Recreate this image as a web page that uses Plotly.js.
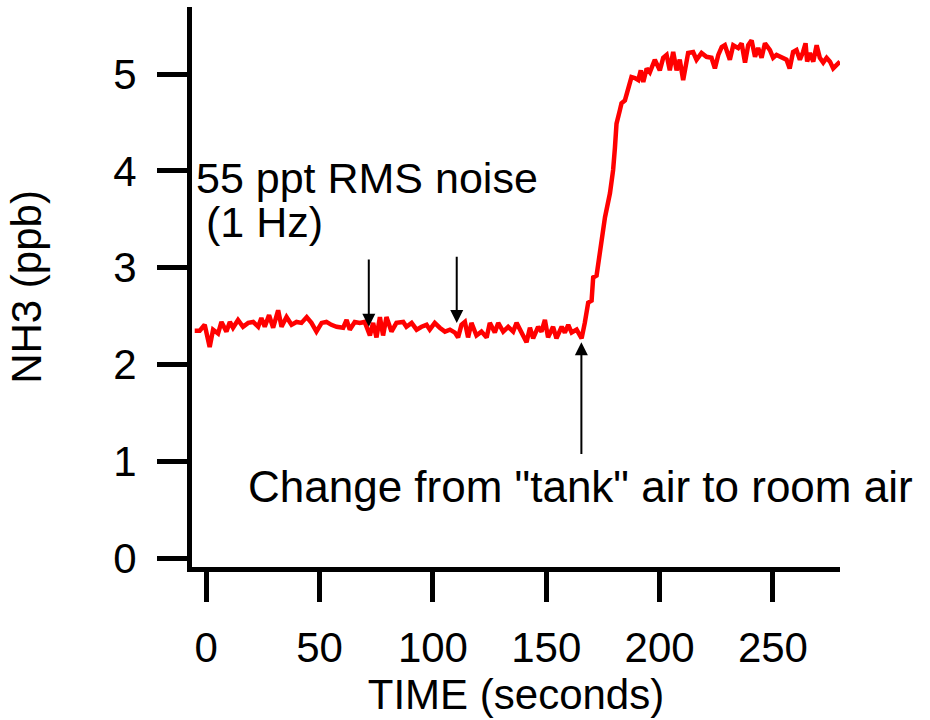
<!DOCTYPE html>
<html>
<head>
<meta charset="utf-8">
<script src="https://cdn.plot.ly/plotly-3.0.1.min.js"></script>
<style>html,body{margin:0;padding:0;background:#fff;}#chart{width:930px;height:720px;}</style>
</head>
<body>
<div id="chart"></div>
<script>
// Time (seconds)
const timeSec = [
-5.1,-2.9,-0.7,1.5,3.0,5.2,6.7,8.9,10.4,11.8,14.0,16.2,18.5,20.7,22.9,24.3,25.8,27.7,29.5,31.7,
33.2,35.4,37.6,39.8,42.0,44.3,46.4,48.6,50.9,53.0,55.2,57.5,60.4,61.9,63.3,65.5,67.7,69.9,72.2,73.6,
75.1,76.6,78.0,79.5,81.7,83.9,86.9,88.3,90.6,92.8,95.0,97.2,98.6,100.8,103.0,105.3,107.5,109.7,111.1,112.6,
114.1,115.5,117.0,119.2,121.4,123.7,125.1,127.3,128.8,131.0,133.2,135.4,136.9,139.1,141.3,142.8,144.2,146.4,147.9,149.4,
150.8,153.0,154.5,156.8,158.2,159.7,161.2,163.4,165.6,167.0,168.5,170.0,170.7,172.2,173.7,175.1,175.9,178.1,179.5,180.3,
181.0,182.5,183.2,184.7,186.1,187.6,189.1,190.6,191.7,192.8,194.3,195.7,197.9,200.1,201.6,203.1,204.5,206.0,207.5,208.9,
210.4,212.6,214.8,216.3,218.5,220.7,222.9,224.4,225.9,227.4,228.8,231.0,232.5,234.7,236.2,237.7,239.1,240.6,242.1,243.5,
245.0,246.5,248.7,250.1,251.6,253.8,256.0,257.4,258.9,260.4,261.9,263.3,264.4,265.1,266.3,267.8,269.3,270.7,272.2,273.7,
275.2,276.6,279.6
];
// NH3 (ppb)
const nh3 = [
2.35,2.35,2.41,2.18,2.36,2.32,2.44,2.34,2.44,2.38,2.46,2.39,2.43,2.44,2.39,2.48,2.39,2.51,2.38,2.56,
2.39,2.49,2.41,2.44,2.43,2.49,2.43,2.34,2.43,2.44,2.41,2.39,2.38,2.46,2.36,2.44,2.43,2.44,2.30,2.43,
2.28,2.49,2.30,2.49,2.34,2.43,2.44,2.39,2.43,2.36,2.39,2.41,2.36,2.43,2.38,2.34,2.36,2.33,2.28,2.41,
2.44,2.28,2.43,2.30,2.34,2.28,2.43,2.33,2.43,2.34,2.39,2.34,2.43,2.33,2.23,2.38,2.27,2.39,2.34,2.46,
2.28,2.39,2.27,2.39,2.33,2.41,2.33,2.36,2.27,2.43,2.64,2.66,2.90,2.92,3.15,3.36,3.52,3.77,4.01,4.24,
4.49,4.63,4.70,4.73,4.87,4.97,4.96,4.94,5.04,4.92,5.06,5.02,5.15,5.04,5.17,5.20,5.04,5.23,5.04,5.15,
4.94,5.22,5.23,5.15,5.22,5.18,5.17,5.06,5.20,5.28,5.30,5.15,5.30,5.27,5.32,5.12,5.30,5.35,5.18,5.27,
5.17,5.32,5.25,5.17,5.20,5.18,5.15,5.06,5.23,5.25,5.15,5.23,5.32,5.13,5.22,5.13,5.30,5.17,5.12,5.17,
5.13,5.06,5.13
];
const xTickVals = [0, 50, 100, 150, 200, 250];
const yTickVals = [0, 1, 2, 3, 4, 5];
const noteText1 = '55 ppt RMS noise';
const noteText2 = '(1 Hz)';
const changeText = 'Change from "tank" air to room air';
// arrow annotations: [x, head y, tail y]
const arrowNoise1 = [71.7, 2.39, 3.10];
const arrowNoise2 = [110.5, 2.43, 3.13];
const arrowChange = [165.5, 2.23, 1.06];

const FONT = 'Liberation Sans, Arial, sans-serif';

const trace = {
  x: timeSec, y: nh3, type: 'scatter', mode: 'lines',
  line: {color: '#ff0000', width: 4.5}, hoverinfo: 'skip'
};

function arrow(a) {
  return {x: a[0], y: a[1], ax: a[0], ay: a[2], xref: 'x', yref: 'y', axref: 'x', ayref: 'y',
    text: '', showarrow: true, arrowhead: 2, arrowsize: 1.3, arrowwidth: 2, arrowcolor: '#000'};
}

const layout = {
  width: 930, height: 720,
  margin: {l: 192, r: 90, t: 7, b: 153},
  paper_bgcolor: '#fff', plot_bgcolor: '#fff',
  showlegend: false,
  font: {family: FONT, color: '#000', size: 42},
  xaxis: {
    range: [-6.3, 279.6], tickvals: xTickVals, ticktext: xTickVals.map(String),
    showline: true, linewidth: 5, linecolor: '#000', showgrid: false, zeroline: false,
    ticks: 'outside', ticklen: 30, tickwidth: 5, tickcolor: '#000', ticklabelstandoff: 10,
    tickfont: {family: FONT, size: 42, color: '#000'},
    title: {text: 'TIME (seconds)', font: {family: FONT, size: 42, color: '#000'}, standoff: 2},
    automargin: false
  },
  yaxis: {
    range: [-0.093, 5.695], tickvals: yTickVals, ticktext: yTickVals.map(String),
    showline: true, linewidth: 5, linecolor: '#000', showgrid: false, zeroline: false,
    ticks: 'outside', ticklen: 30, tickwidth: 5, tickcolor: '#000', ticklabelstandoff: 12,
    tickfont: {family: FONT, size: 42, color: '#000'},
    title: {text: 'NH3 (ppb)', font: {family: FONT, size: 42, color: '#000'}, standoff: 60},
    automargin: false
  },
  annotations: [
    {x: -5.3, y: 3.93, xref: 'x', yref: 'y', text: noteText1, showarrow: false, xanchor: 'left', yanchor: 'middle',
      font: {family: FONT, size: 43, color: '#000'}},
    {x: -0.9, y: 3.47, xref: 'x', yref: 'y', text: noteText2, showarrow: false, xanchor: 'left', yanchor: 'middle',
      font: {family: FONT, size: 43, color: '#000'}},
    {x: 165.3, y: 0.74, xref: 'x', yref: 'y', text: changeText, showarrow: false, xanchor: 'center', yanchor: 'middle',
      font: {family: FONT, size: 44, color: '#000'}},
    arrow(arrowNoise1), arrow(arrowNoise2), arrow(arrowChange)
  ]
};

Plotly.newPlot('chart', [trace], layout, {staticPlot: true, displayModeBar: false});
</script>
</body>
</html>
